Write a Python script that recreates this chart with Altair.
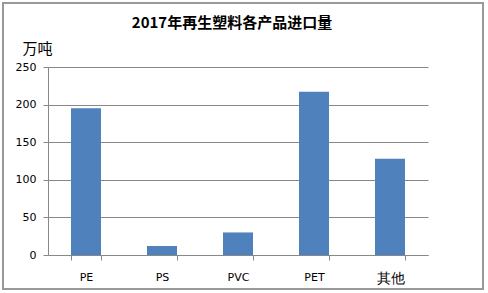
import altair as alt
import pandas as pd

categories = ["PE", "PS", "PVC", "PET", "其他"]
values = [195, 12, 30, 217, 128]
y_ticks = [0, 50, 100, 150, 200, 250]
title_text = "2017年再生塑料各产品进口量"

df = pd.DataFrame({"cat": categories, "val": values})

pi = 46 / 76
bars = alt.Chart(df).mark_bar(color="#4F81BD").encode(
    x=alt.X("cat:N", sort=categories,
            scale=alt.Scale(paddingInner=pi, paddingOuter=pi / 2),
            axis=alt.Axis(title=None, labelAngle=0, tickBand="extent",
                          labelFont="DejaVu Sans",
                          labelFontSize=alt.condition(alt.datum.value == "其他",
                                                      alt.value(14), alt.value(11)),
                          labelColor="#000",
                          labelPadding=11, tickSize=5, tickColor="#888",
                          domainColor="#888", grid=False)),
    y=alt.Y("val:Q", scale=alt.Scale(domain=[0, 250], nice=False),
            axis=alt.Axis(values=y_ticks, title="万吨", titleAngle=0,
                          titleX=-11, titleY=-14, titleAlign="center",
                          titleBaseline="alphabetic",
                          titleFont="Noto Sans CJK SC", titleFontSize=15,
                          titleFontWeight="normal", titleColor="#000",
                          labelFont="DejaVu Sans", labelFontSize=11, labelColor="#000",
                          labelPadding=7, tickSize=5, tickColor="#888",
                          domainColor="#888", gridColor="#888", gridOpacity=1)),
)

border = alt.Chart(df).mark_rect(fill=None, stroke="#999", strokeWidth=1.5).encode(
    x=alt.value(-45), x2=alt.value(435), y=alt.value(-64), y2=alt.value(222)
)

title = alt.Chart(pd.DataFrame({"t": [title_text]})).mark_text(
    font="Noto Sans CJK SC", fontSize=15, fontWeight="bold", color="#000",
    align="center", baseline="alphabetic"
).encode(text="t:N", x=alt.value(184), y=alt.value(-39))

chart = alt.layer(border, bars, title).properties(
    width=380, height=188,
    background="white",
    autosize=alt.AutoSizeParams(type="none"),
    padding={"left": 48, "top": 67, "right": 60, "bottom": 38},
).configure_view(stroke=None)

chart.save("out.html", embed_options={"renderer": "svg", "actions": False})
